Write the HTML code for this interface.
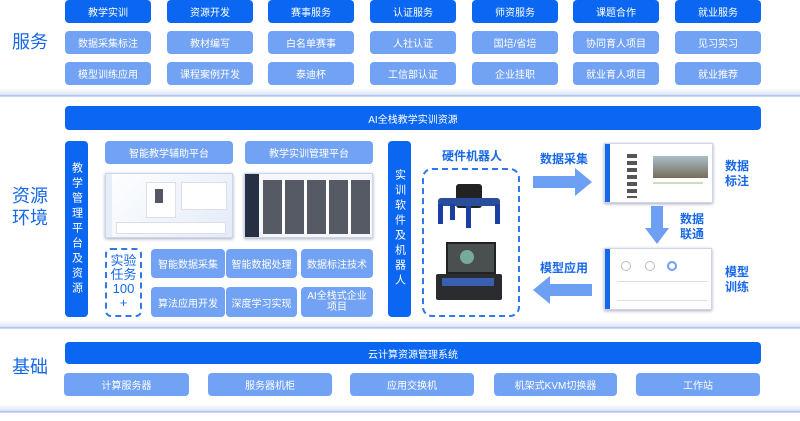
<!DOCTYPE html>
<html><head><meta charset="utf-8"><style>
*{margin:0;padding:0;box-sizing:border-box}
body{width:800px;height:421px;background:#fff;position:relative;overflow:hidden;font-family:"Liberation Sans","Noto Sans CJK SC",sans-serif}
.a{position:absolute;display:flex;align-items:center;justify-content:center;text-align:center;color:#fff;font-size:10px;border-radius:4px}
.d{background:#0b67f2}
.l{background:#72a2f4}
.t{position:absolute;color:#1668e8;font-size:18px;line-height:22px}
.div{position:absolute;left:0;width:800px;height:9px;background:linear-gradient(#fff,#e3eaf8 70%,#9cb6ea 90%,#fff)}
.v{position:absolute;background:#0b67f2;color:#fff;font-size:11px;width:23px;border-radius:4px;display:flex;align-items:center;justify-content:center;writing-mode:vertical-rl;text-orientation:upright;letter-spacing:4px}
.b{position:absolute;color:#1668e8;font-weight:bold;font-size:12px;line-height:15px}
.s{position:absolute;background:#fff;border:1px solid #c9d6ee;box-shadow:0 1px 3px #aab}
</style></head><body>
<div class="t" style="left:12px;top:31px">服务</div>
<div class="a d" style="left:65px;top:0;width:86px;height:23px">教学实训</div>
<div class="a d" style="left:167px;top:0;width:86px;height:23px">资源开发</div>
<div class="a d" style="left:268px;top:0;width:86px;height:23px">赛事服务</div>
<div class="a d" style="left:370px;top:0;width:86px;height:23px">认证服务</div>
<div class="a d" style="left:472px;top:0;width:86px;height:23px">师资服务</div>
<div class="a d" style="left:573px;top:0;width:86px;height:23px">课题合作</div>
<div class="a d" style="left:675px;top:0;width:86px;height:23px">就业服务</div>
<div class="a l" style="left:65px;top:31px;width:86px;height:23px">数据采集标注</div>
<div class="a l" style="left:167px;top:31px;width:86px;height:23px">教材编写</div>
<div class="a l" style="left:268px;top:31px;width:86px;height:23px">白名单赛事</div>
<div class="a l" style="left:370px;top:31px;width:86px;height:23px">人社认证</div>
<div class="a l" style="left:472px;top:31px;width:86px;height:23px">国培/省培</div>
<div class="a l" style="left:573px;top:31px;width:86px;height:23px">协同育人项目</div>
<div class="a l" style="left:675px;top:31px;width:86px;height:23px">见习实习</div>
<div class="a l" style="left:65px;top:62px;width:86px;height:23px">模型训练应用</div>
<div class="a l" style="left:167px;top:62px;width:86px;height:23px">课程案例开发</div>
<div class="a l" style="left:268px;top:62px;width:86px;height:23px">泰迪杯</div>
<div class="a l" style="left:370px;top:62px;width:86px;height:23px">工信部认证</div>
<div class="a l" style="left:472px;top:62px;width:86px;height:23px">企业挂职</div>
<div class="a l" style="left:573px;top:62px;width:86px;height:23px">就业育人项目</div>
<div class="a l" style="left:675px;top:62px;width:86px;height:23px">就业推荐</div>
<div class="div" style="top:88px"></div>
<div class="a d" style="left:65px;top:106px;width:696px;height:24px">AI全栈教学实训资源</div>
<div class="t" style="left:12px;top:185px">资源<br>环境</div>
<div class="v" style="left:65px;top:141px;height:176px">教学管理平台及资源</div>
<div class="a l" style="left:105px;top:141px;width:128px;height:23px">智能教学辅助平台</div>
<div class="a l" style="left:245px;top:141px;width:128px;height:23px">教学实训管理平台</div>
<div class="s" style="left:105px;top:173px;width:128px;height:65px;background:linear-gradient(135deg,#fff,#e3ebf9)"><div style="position:absolute;left:0;top:0;width:6px;height:63px;background:#e8eef8"></div><div style="position:absolute;left:40px;top:8px;width:30px;height:36px;background:#fff;border:1px solid #dde"><div style="margin:6px 8px;width:8px;height:14px;background:#556"></div></div><div style="position:absolute;left:75px;top:8px;width:46px;height:28px;background:#fff;border:1px solid #dde"></div><div style="position:absolute;left:10px;top:48px;width:110px;height:12px;background:#fff;border:1px solid #dde"></div></div>
<div class="s" style="left:244px;top:173px;width:129px;height:65px;background:#f5f7fb"><div style="position:absolute;left:0;top:0;width:14px;height:63px;background:#263042"></div>
<div style="position:absolute;left:18px;top:6px;width:108px;height:54px;background:repeating-linear-gradient(90deg,#3a3f4c 0 19px,transparent 19px 22px),#fff;opacity:.85"></div></div>
<div style="position:absolute;left:105px;top:248px;width:37px;height:69px;border:2px dashed #2f78ec;border-radius:6px;color:#1668e8;font-size:13px;line-height:14px;text-align:center;padding-top:4px">实验<br>任务<br>100<br>+</div>
<div class="a l" style="left:151px;top:249px;width:74px;height:29px">智能数据采集</div>
<div class="a l" style="left:226px;top:249px;width:71px;height:29px">智能数据处理</div>
<div class="a l" style="left:301px;top:249px;width:72px;height:29px">数据标注技术</div>
<div class="a l" style="left:151px;top:287px;width:74px;height:30px">算法应用开发</div>
<div class="a l" style="left:226px;top:287px;width:71px;height:30px">深度学习实现</div>
<div class="a l" style="left:301px;top:287px;width:72px;height:30px;line-height:11px">AI全栈式企业<br>项目</div>
<div class="v" style="left:388px;top:141px;height:176px">实训软件及机器人</div>
<div class="b" style="left:442px;top:149px">硬件机器人</div>
<div style="position:absolute;left:422px;top:168px;width:98px;height:149px;border:2px dashed #2f78ec;border-radius:10px"></div>
<div style="position:absolute;left:434px;top:178px;width:70px;height:52px"><div style="position:absolute;left:22px;top:6px;width:26px;height:24px;background:#222;border-radius:3px"></div><div style="position:absolute;left:4px;top:20px;width:62px;height:8px;background:#2a4f9a;border-radius:3px"></div><div style="position:absolute;left:4px;top:26px;width:5px;height:20px;background:#1b3fa0"></div><div style="position:absolute;left:61px;top:26px;width:5px;height:20px;background:#1b3fa0"></div><div style="position:absolute;left:32px;top:28px;width:5px;height:22px;background:#1b3fa0"></div><div style="position:absolute;left:16px;top:26px;width:5px;height:16px;background:#1b3fa0"></div></div>
<div style="position:absolute;left:436px;top:242px;width:68px;height:62px"><div style="position:absolute;left:10px;top:0;width:50px;height:32px;background:#4a4f50;border:2px solid #222"></div><div style="position:absolute;left:0;top:32px;width:66px;height:26px;background:#2a2c30;border-radius:2px"></div><div style="position:absolute;left:24px;top:8px;width:14px;height:14px;background:#7a9;border-radius:50%"></div><div style="position:absolute;left:6px;top:36px;width:52px;height:8px;background:#3b5fb0"></div></div>
<div class="b" style="left:540px;top:152px">数据采集</div>
<svg style="position:absolute;left:533px;top:168px" width="60" height="28"><polygon points="0,8 42,8 42,0 59,14 42,28 42,20 0,20" fill="#6d9ff2"/></svg>
<div class="s" style="left:604px;top:143px;width:109px;height:60px"><div style="position:absolute;left:0;top:0;width:5px;height:58px;background:#1668e8"></div><div style="position:absolute;left:22px;top:10px;width:10px;height:44px;background:repeating-linear-gradient(#555 0 4px,#fff 4px 7px)"></div><div style="position:absolute;left:48px;top:12px;width:55px;height:22px;background:linear-gradient(#a9c0c8,#766c5c)"></div><div style="position:absolute;left:48px;top:38px;width:50px;height:2px;background:#cdb"></div></div>
<div class="b" style="left:725px;top:159px">数据<br>标注</div>
<svg style="position:absolute;left:645px;top:206px" width="24" height="38"><polygon points="6,0 18,0 18,22 24,22 12,38 0,22 6,22" fill="#6d9ff2"/></svg>
<div class="b" style="left:680px;top:212px">数据<br>联通</div>
<div class="s" style="left:604px;top:248px;width:108px;height:62px"><div style="position:absolute;left:0;top:0;width:5px;height:60px;background:#1668e8"></div><div style="position:absolute;left:16px;top:12px;width:10px;height:10px;border:1px solid #bbb;border-radius:50%"></div><div style="position:absolute;left:40px;top:12px;width:10px;height:10px;border:1px solid #bbb;border-radius:50%"></div><div style="position:absolute;left:62px;top:12px;width:10px;height:10px;border:2px solid #6d9ff2;border-radius:50%"></div><div style="position:absolute;left:12px;top:32px;width:90px;height:20px;border-top:1px solid #ddd;border-bottom:1px solid #ddd"></div></div>
<div class="b" style="left:725px;top:265px">模型<br>训练</div>
<div class="b" style="left:540px;top:261px">模型应用</div>
<svg style="position:absolute;left:533px;top:276px" width="60" height="28"><polygon points="59,8 17,8 17,0 0,14 17,28 17,20 59,20" fill="#6d9ff2"/></svg>
<div class="div" style="top:320px"></div>
<div class="t" style="left:12px;top:356px">基础</div>
<div class="a d" style="left:65px;top:342px;width:696px;height:22px">云计算资源管理系统</div>
<div class="a l" style="left:64px;top:373px;width:125px;height:23px">计算服务器</div>
<div class="a l" style="left:208px;top:373px;width:124px;height:23px">服务器机柜</div>
<div class="a l" style="left:350px;top:373px;width:124px;height:23px">应用交换机</div>
<div class="a l" style="left:494px;top:373px;width:123px;height:23px">机架式KVM切换器</div>
<div class="a l" style="left:636px;top:373px;width:124px;height:23px">工作站</div>
<div class="div" style="top:404px"></div>
</body></html>
